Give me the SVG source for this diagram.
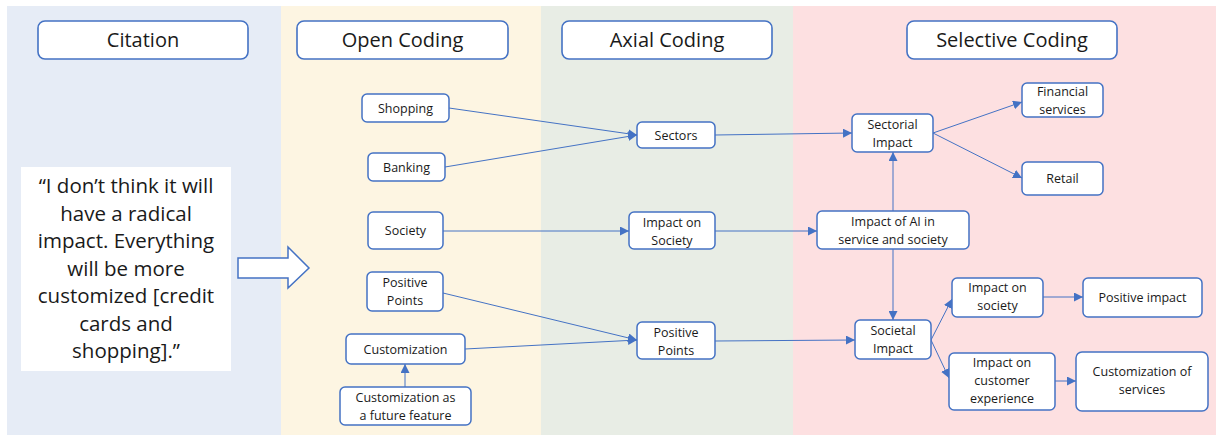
<svg xmlns="http://www.w3.org/2000/svg" width="1216" height="435" viewBox="0 0 1216 435">
<defs>
<style>
.hdr{fill:#fff;stroke:#4472C4;stroke-width:1.6}
.nd{fill:#fff;stroke:#4472C4;stroke-width:1.5}
text{font-family:"Open Sans","Liberation Sans",sans-serif;fill:#1a1a1a;text-anchor:middle}
.ht{font-size:20px}
.t{font-size:12.5px}
.q{font-size:20.5px}
.c line{stroke:#4472C4;stroke-width:1;marker-end:url(#ah)}
</style>
<marker id="ah" viewBox="0 0 10 10" refX="10" refY="5" markerWidth="9" markerHeight="9" markerUnits="userSpaceOnUse" orient="auto">
<path d="M0,0 L10,5 L0,10 z" fill="#4472C4"/>
</marker>
</defs>
<rect x="0" y="0" width="1216" height="435" fill="#fff"/>
<rect x="7" y="6" width="274" height="429" fill="#E6ECF6"/>
<rect x="281" y="6" width="260" height="429" fill="#FDF5E2"/>
<rect x="541" y="6" width="252" height="429" fill="#E8EDE5"/>
<rect x="793" y="6" width="423" height="429" fill="#FDE0E1"/>

<g id="h-citation"><rect class="hdr" x="38" y="21" width="210" height="38" rx="7"/><text class="ht" x="143" y="47">Citation</text></g>
<g id="h-open"><rect class="hdr" x="297" y="21" width="211" height="38" rx="7"/><text class="ht" x="402.5" y="47">Open Coding</text></g>
<g id="h-axial"><rect class="hdr" x="562" y="21" width="210" height="38" rx="7"/><text class="ht" x="667" y="47">Axial Coding</text></g>
<g id="h-selective"><rect class="hdr" x="907" y="21" width="210" height="38" rx="7"/><text class="ht" x="1012" y="47">Selective Coding</text></g>

<g id="quote"><rect x="21" y="167" width="210" height="204" fill="#fff"/>
<text class="q"><tspan x="126" y="193">“I don’t think it will</tspan><tspan x="126" y="220.5">have a radical</tspan><tspan x="126" y="248">impact. Everything</tspan><tspan x="126" y="275.5">will be more</tspan><tspan x="126" y="303">customized [credit</tspan><tspan x="126" y="330.5">cards and</tspan><tspan x="126" y="358">shopping].”</tspan></text></g>

<g id="big-arrow"><path d="M238,258 L288,258 L288,247 L309,268 L288,288 L288,278 L238,278 Z" fill="#fff" stroke="#4472C4" stroke-width="1.5"/></g>

<g class="c" id="connectors">
<line x1="449" y1="108" x2="637" y2="135"/>
<line x1="445" y1="167" x2="637" y2="135"/>
<line x1="715" y1="135" x2="852" y2="133"/>
<line x1="443" y1="231" x2="629" y2="231"/>
<line x1="715" y1="231" x2="817" y2="231"/>
<line x1="893" y1="211" x2="893" y2="152"/>
<line x1="893" y1="249" x2="893" y2="320"/>
<line x1="933" y1="133" x2="1022" y2="102"/>
<line x1="933" y1="133" x2="1022" y2="178"/>
<line x1="443" y1="293" x2="637" y2="340"/>
<line x1="465" y1="349" x2="637" y2="340"/>
<line x1="405" y1="387" x2="405" y2="364"/>
<line x1="715" y1="341" x2="855" y2="340"/>
<line x1="931" y1="340" x2="952" y2="299"/>
<line x1="931" y1="340" x2="949" y2="378"/>
<line x1="1043" y1="297" x2="1083" y2="297"/>
<line x1="1055" y1="381" x2="1076" y2="381"/>
</g>

<g id="n-shopping"><rect class="nd" x="362" y="94" width="87" height="28" rx="5"/><text class="t" x="405.5" y="112.5">Shopping</text></g>
<g id="n-banking"><rect class="nd" x="368" y="153" width="77" height="28" rx="5"/><text class="t" x="406.5" y="171.5">Banking</text></g>
<g id="n-society"><rect class="nd" x="368" y="212" width="75" height="37" rx="5"/><text class="t" x="405.5" y="235">Society</text></g>
<g id="n-pospoints-open"><rect class="nd" x="367" y="272" width="76" height="39" rx="5"/><text class="t"><tspan x="405" y="287">Positive</tspan><tspan x="405" y="305">Points</tspan></text></g>
<g id="n-customization"><rect class="nd" x="346" y="334" width="119" height="30" rx="5"/><text class="t" x="405.5" y="353.5">Customization</text></g>
<g id="n-custom-future"><rect class="nd" x="340" y="387" width="131" height="38" rx="5"/><text class="t"><tspan x="405.5" y="402">Customization as</tspan><tspan x="405.5" y="420">a future feature</tspan></text></g>

<g id="n-sectors"><rect class="nd" x="637" y="122" width="78" height="26" rx="5"/><text class="t" x="676" y="139.5">Sectors</text></g>
<g id="n-impact-society-axial"><rect class="nd" x="629" y="212" width="86" height="37" rx="5"/><text class="t"><tspan x="672" y="227">Impact on</tspan><tspan x="672" y="245">Society</tspan></text></g>
<g id="n-pospoints-axial"><rect class="nd" x="637" y="322" width="78" height="37" rx="5"/><text class="t"><tspan x="676" y="337">Positive</tspan><tspan x="676" y="355">Points</tspan></text></g>

<g id="n-sectorial"><rect class="nd" x="852" y="114" width="81" height="38" rx="5"/><text class="t"><tspan x="892.5" y="129">Sectorial</tspan><tspan x="892.5" y="147">Impact</tspan></text></g>
<g id="n-financial"><rect class="nd" x="1022" y="83" width="81" height="34" rx="5"/><text class="t"><tspan x="1062.5" y="96">Financial</tspan><tspan x="1062.5" y="114">services</tspan></text></g>
<g id="n-retail"><rect class="nd" x="1022" y="162" width="81" height="33" rx="5"/><text class="t" x="1062.5" y="183">Retail</text></g>
<g id="n-impact-ai"><rect class="nd" x="817" y="211" width="152" height="38" rx="5"/><text class="t"><tspan x="893" y="226">Impact of AI in</tspan><tspan x="893" y="244">service and society</tspan></text></g>
<g id="n-impact-society-sel"><rect class="nd" x="952" y="278" width="91" height="39" rx="5"/><text class="t"><tspan x="997.5" y="292">Impact on</tspan><tspan x="997.5" y="310">society</tspan></text></g>
<g id="n-positive-impact"><rect class="nd" x="1083" y="278" width="119" height="39" rx="5"/><text class="t" x="1142.5" y="302">Positive impact</text></g>
<g id="n-societal"><rect class="nd" x="855" y="320" width="76" height="39" rx="5"/><text class="t"><tspan x="893" y="335">Societal</tspan><tspan x="893" y="353">Impact</tspan></text></g>
<g id="n-customer-exp"><rect class="nd" x="949" y="353" width="106" height="57" rx="5"/><text class="t"><tspan x="1002" y="367">Impact on</tspan><tspan x="1002" y="385">customer</tspan><tspan x="1002" y="403">experience</tspan></text></g>
<g id="n-custom-services"><rect class="nd" x="1076" y="352" width="132" height="59" rx="6"/><text class="t"><tspan x="1142" y="376">Customization of</tspan><tspan x="1142" y="394">services</tspan></text></g>
</svg>
